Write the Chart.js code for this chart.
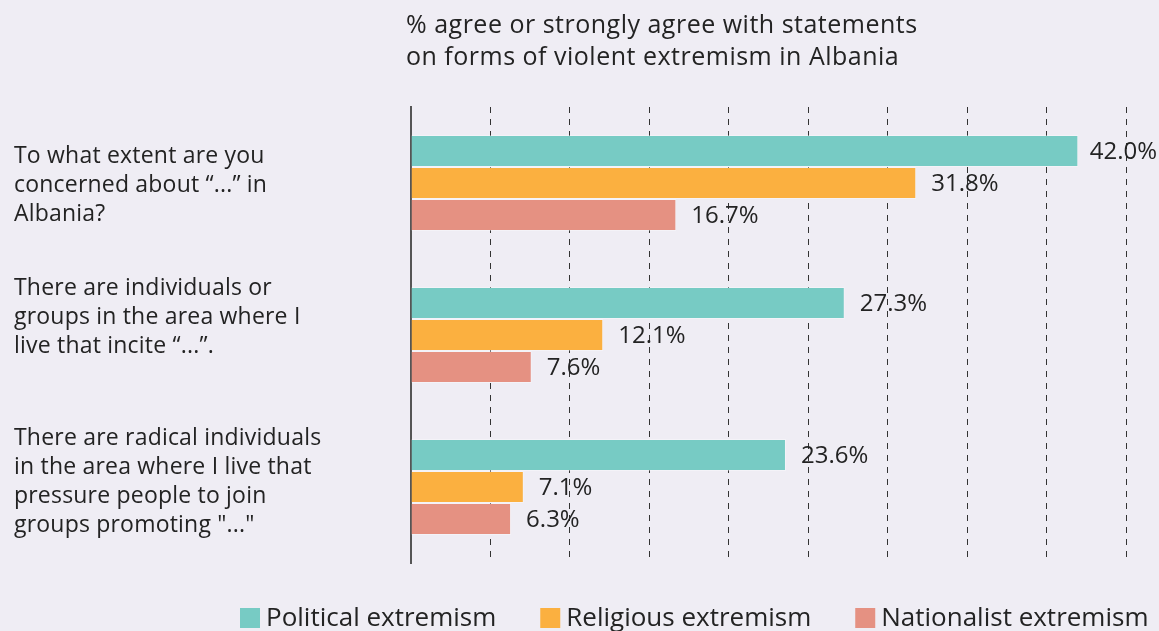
<!DOCTYPE html>
<html>
<head>
<meta charset="utf-8">
<script src="https://cdn.jsdelivr.net/npm/chart.js@4.4.1/dist/chart.umd.min.js"></script>
<style>
  html, body { margin: 0; padding: 0; background: #EFEDF4; }
  #wrap { width: 1159px; height: 631px; }
</style>
</head>
<body>
<div id="wrap"><canvas id="c" width="1159" height="631"></canvas></div>
<script>
const categories = [
  ['To what extent are you', 'concerned about \u201c...\u201d in', 'Albania?'],
  ['There are individuals or', 'groups in the area where I', 'live that incite \u201c...\u201d.'],
  ['There are radical individuals', 'in the area where I live that', 'pressure people to join', 'groups promoting "..."']
];
const seriesNames = ['Political extremism', 'Religious extremism', 'Nationalist extremism'];
const political = [42.0, 27.3, 23.6];
const religious = [31.8, 12.1, 7.1];
const nationalist = [16.7, 7.6, 6.3];
const titleLines = ['% agree or strongly agree with statements', 'on forms of violent extremism in Albania'];
const xMax = 45;
const xStep = 5;

const colors = ['#77CBC4', '#FBB040', '#E59182'];
const FONT = '"Open Sans", "Noto Sans", sans-serif';
const TEXT = '#232323';
const labelShift = [2, -18, -5];

const drawPlugin = {
  id: 'custom',
  afterDatasetsDraw(chart) {
    const ctx = chart.ctx;
    const ca = chart.chartArea;
    const y = chart.scales.y;
    ctx.save();
    ctx.fillStyle = TEXT;
    ctx.textBaseline = 'middle';
    ctx.textAlign = 'left';
    // value labels
    ctx.font = '24px ' + FONT;
    chart.data.datasets.forEach((ds, di) => {
      chart.getDatasetMeta(di).data.forEach((bar, i) => {
        const txt = ds.data[i].toFixed(1) + '%';
        const w = ctx.measureText(txt).width;
        let x = bar.x + 15;
        if (x + w > 1157) x = 1157 - w;
        ctx.fillText(txt, x, bar.y + 1);
      });
    });
    // category labels
    ctx.font = '23px ' + FONT;
    ctx.letterSpacing = '0.2px';
    const lh = 29;
    categories.forEach((lines, i) => {
      const cy = y.getPixelForValue(i) + labelShift[i];
      const y0 = cy - (lines.length - 1) * lh / 2;
      lines.forEach((l, k) => ctx.fillText(l, 14, y0 + k * lh));
    });
    // title
    ctx.font = '25px ' + FONT;
    ctx.letterSpacing = '0.5px';
    titleLines.forEach((l, k) => ctx.fillText(l, ca.left - 5, 26 + k * 32));
    ctx.letterSpacing = '0px';
    // legend
    ctx.font = '26px ' + FONT;
    let lx = 240;
    const ly = 618;
    seriesNames.forEach((n, i) => {
      ctx.fillStyle = colors[i];
      ctx.fillRect(lx, ly - 10, 20, 20);
      ctx.fillStyle = TEXT;
      ctx.fillText(n, lx + 26, ly + 1);
      lx += 26 + ctx.measureText(n).width + 44;
    });
    ctx.restore();
  }
};

new Chart(document.getElementById('c'), {
  type: 'bar',
  data: {
    labels: categories.map(c => c.join(' ')),
    datasets: [
      { label: seriesNames[0], data: political, backgroundColor: colors[0] },
      { label: seriesNames[1], data: religious, backgroundColor: colors[1] },
      { label: seriesNames[2], data: nationalist, backgroundColor: colors[2] }
    ].map(d => Object.assign(d, { borderColor: 'rgba(255,255,255,0.35)', borderWidth: 1, borderSkipped: 'left', categoryPercentage: 0.632, barPercentage: 1 }))
  },
  options: {
    indexAxis: 'y',
    responsive: false,
    animation: false,
    devicePixelRatio: 1,
    layout: { padding: { left: 0, right: 33, top: 107, bottom: 68 } },
    plugins: { legend: { display: false }, title: { display: false }, tooltip: { enabled: false } },
    scales: {
      x: {
        min: 0, max: xMax,
        ticks: { display: false, stepSize: xStep },
        grid: {
          drawTicks: false,
          color: ctx => ctx.index === 0 ? 'rgba(0,0,0,0)' : '#333',
          lineWidth: 1
        },
        border: { display: false, dash: [6, 6] },
        afterFit: s => { s.height = 0; }
      },
      y: {
        ticks: { display: false },
        grid: { display: false, drawTicks: false },
        border: { display: true, color: '#555', width: 2 },
        afterFit: s => { s.width = 411; }
      }
    }
  },
  plugins: [drawPlugin]
});
</script>
</body>
</html>
